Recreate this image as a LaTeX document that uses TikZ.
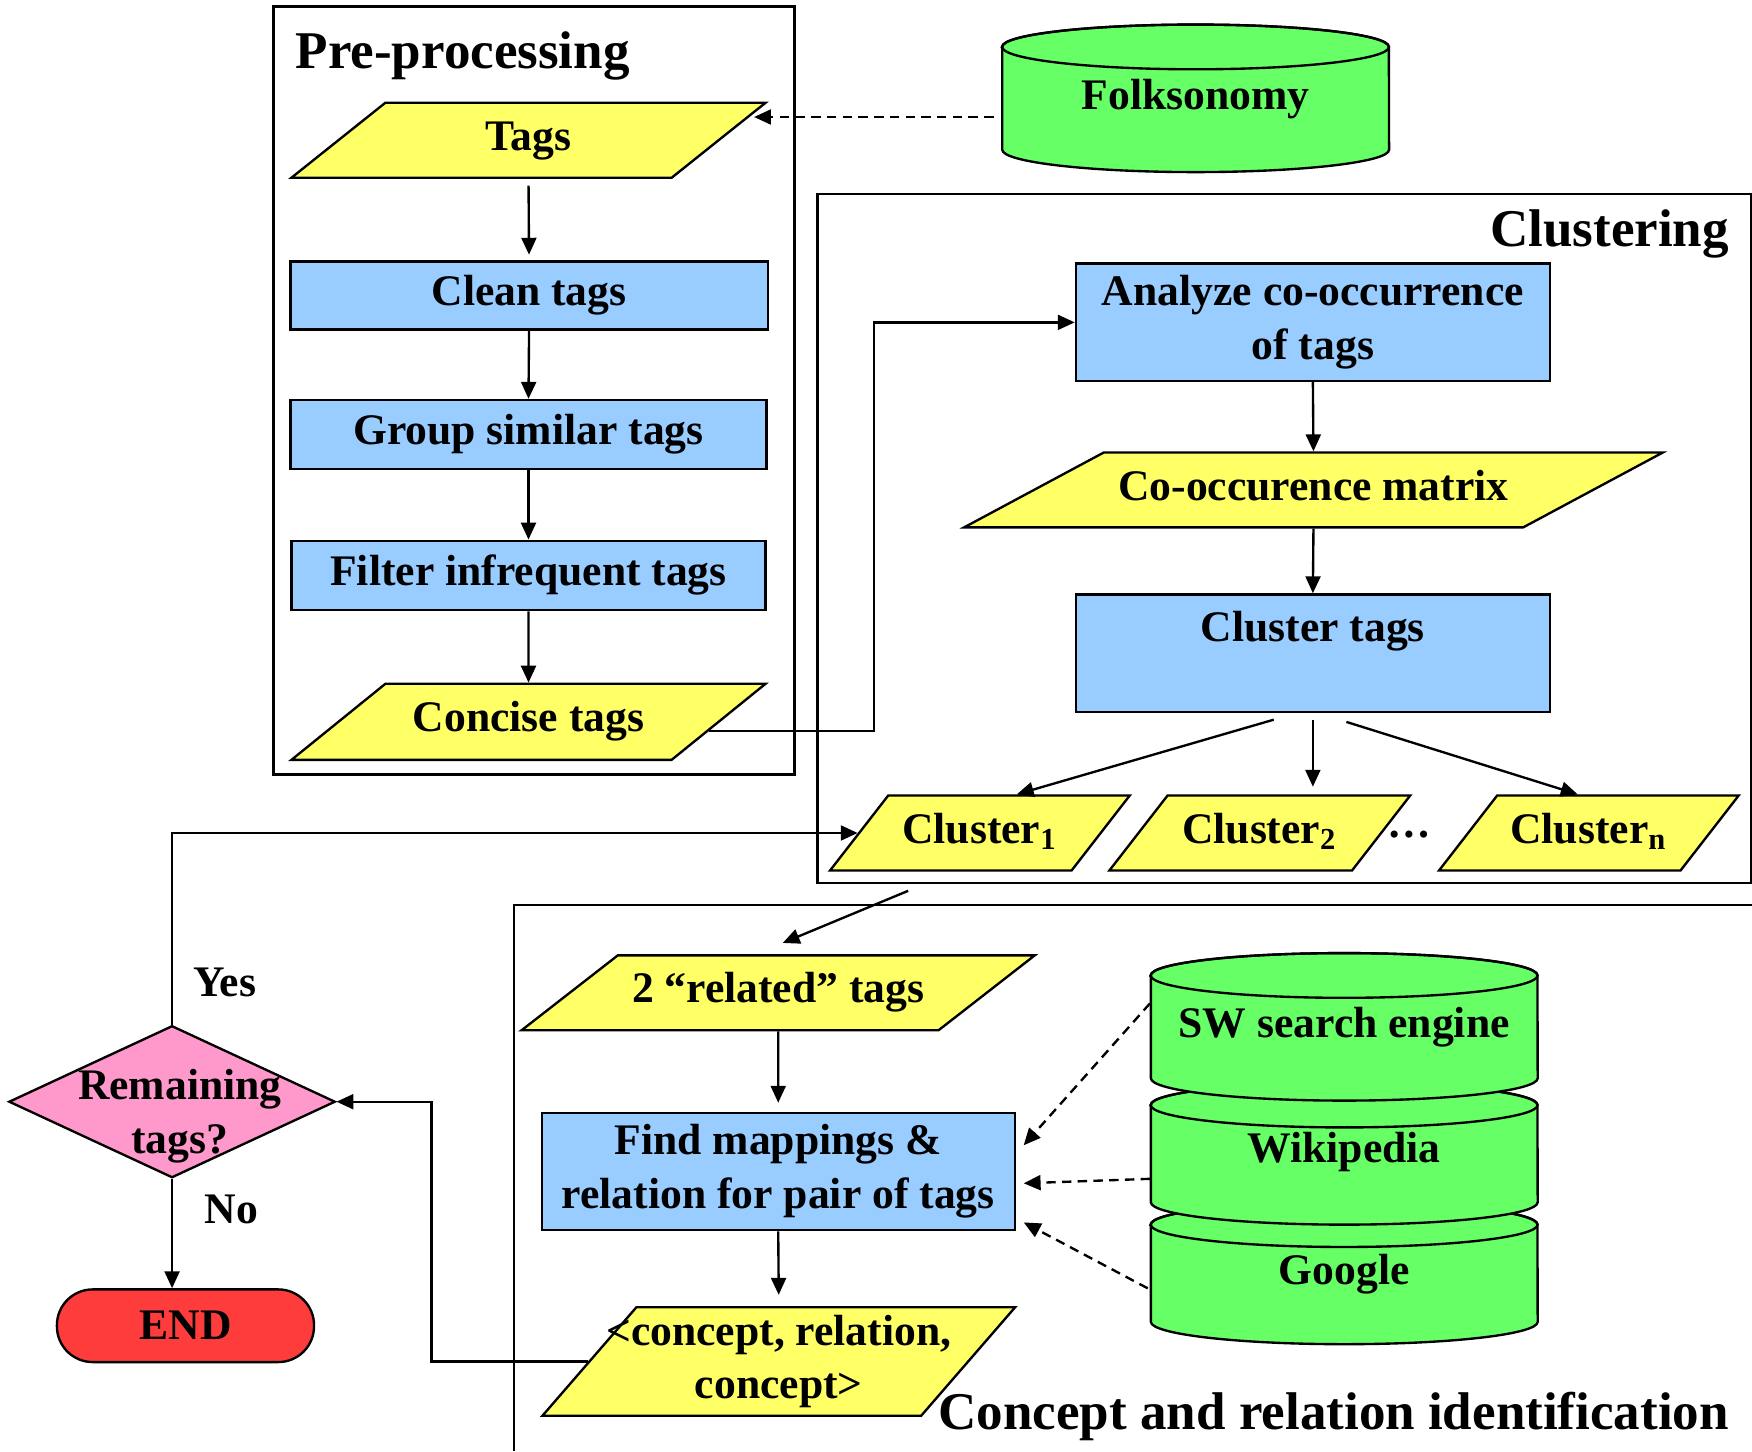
\documentclass[tikz,border=0pt]{standalone}
\usepackage{fontspec}
\setmainfont{Liberation Serif}
\usepackage{xcolor}
\usepackage{tikz}
\usetikzlibrary{shapes.geometric}
\usetikzlibrary{arrows.meta}
\usetikzlibrary{positioning}

\definecolor{tagyellow}{RGB}{255,255,102}
\definecolor{stepblue}{RGB}{153,204,255}
\definecolor{dbgreen}{RGB}{102,255,102}
\definecolor{askpink}{RGB}{255,153,204}
\definecolor{stopred}{RGB}{255,60,60}

% drum: name, centre x, top y, bottom y, text y, text
\newcommand{\dbdrum}[6]{%
  \filldraw[fill=dbgreen,line width=0.6pt] (#2-173,#3) -- (#2-173,#4)
    arc[start angle=180,end angle=360,x radius=1.73cm,y radius=0.2cm]
    -- (#2+173,#3)
    arc[start angle=0,end angle=180,x radius=1.73cm,y radius=0.2cm] -- cycle;
  \draw[line width=0.6pt] (#2,#3) ellipse[x radius=1.73cm,y radius=0.2cm];
  \node[dbtext] (#1) at (#2,#5) {#6};}

\begin{document}
\begin{tikzpicture}[x=0.01cm,y=-0.01cm,
  txt/.style={font=\fontsize{11.1}{13.7}\selectfont\bfseries, align=center},
  process/.style={txt, rectangle, draw, fill=stepblue, line width=0.6pt, inner sep=0},
  datum/.style={txt, trapezium, trapezium stretches body=true, draw, fill=tagyellow, line width=0.6pt,
    inner xsep=0, inner ysep=0.165cm, text height=0.26cm, text depth=0.08cm},
  decision/.style={diamond, draw, fill=askpink, line width=0.6pt, inner sep=0, minimum width=2.92cm, minimum height=1.36cm},
  stopper/.style={txt, rectangle, rounded corners=0.32cm, draw, fill=stopred, line width=0.6pt, minimum width=2.30cm, minimum height=0.65cm},
  stage/.style={rectangle, draw, line width=0.6pt, inner sep=0},
  heading/.style={font=\fontsize{13.5}{16}\selectfont\bfseries, inner sep=0},
  note/.style={txt, inner sep=0},
  dbtext/.style={txt, inner sep=0, minimum width=3.46cm},
  flow/.style={-{Triangle[length=4.3pt,width=3.8pt]}, line width=0.6pt},
  feed/.style={flow, dash pattern=on 2.4pt off 1.6pt}]
\useasboundingbox (0,0) rectangle (1568,1299);

% frames
\node[stage, minimum width=4.66cm, minimum height=6.87cm] (prebox) at (478,349.5) {};
\node[stage, minimum width=8.35cm, minimum height=6.16cm] (clustbox) at (1149.5,482) {};
\draw[line width=0.6pt] (1568,810) -- (460,810) -- (460,1299);
\node[heading, anchor=west] (pretitle) at (264,50) {Pre-processing};
\node[heading, anchor=east] (clusttitle) at (1548,209) {Clustering};
\node[heading, anchor=east] (concepttitle) at (1548,1268) {Concept and relation identification};

% pre-processing
\node[datum, trapezium left angle=38.6, trapezium right angle=141.4, minimum width=4.24cm, minimum height=0.67cm] (tags) at (473,125.5) {Tags};
\node[process, minimum width=4.27cm, minimum height=0.61cm] (clean) at (473.5,264.5) {Clean tags};
\node[process, minimum width=4.26cm, minimum height=0.62cm] (group) at (473,389) {Group similar tags};
\node[process, minimum width=4.24cm, minimum height=0.62cm] (filter) at (473,515) {Filter infrequent tags};
\node[datum, trapezium left angle=39, trapezium right angle=141, minimum width=4.24cm, minimum height=0.68cm, inner ysep=0.17cm] (concise) at (473,646) {Concise tags};

% clustering
\node[process, minimum width=4.24cm, minimum height=1.05cm] (analyze) at (1175,288.5) {Analyze co-occurrence\\of tags};
\node[datum, trapezium left angle=28.2, trapezium right angle=151.8, minimum width=6.25cm, minimum height=0.67cm] (matrix) at (1175.5,438.5) {Co-occurence matrix};
\node[process, minimum width=4.24cm, minimum height=1.05cm] (clus) at (1175,584.5) {Cluster tags\\\mbox{}};
\node[datum, trapezium left angle=52.2, trapezium right angle=127.8, minimum width=2.68cm, minimum height=0.67cm] (c1) at (877,745.5) {Cluster\textsubscript{1}};
\node[datum, trapezium left angle=52.2, trapezium right angle=127.8, minimum width=2.69cm, minimum height=0.67cm] (c2) at (1127.5,745.5) {Cluster\textsubscript{2}};
\node[note] (dots) at (1261,747) {\ldots};
\node[datum, trapezium left angle=52.2, trapezium right angle=127.8, minimum width=2.68cm, minimum height=0.67cm] (cn) at (1422,745.5) {Cluster\textsubscript{n}};

% concept and relation identification
\node[datum, trapezium left angle=37.9, trapezium right angle=142.1, minimum width=4.59cm, minimum height=0.67cm] (related) at (696.5,888.5) {2 “related” tags};
\node[process, minimum width=4.23cm, minimum height=1.05cm] (find) at (696.5,1048.5) {Find mappings \&\\relation for pair of tags};
\node[datum, trapezium left angle=49.1, trapezium right angle=130.9, minimum width=4.22cm, minimum height=0.97cm,
  text height={}, text depth={}, inner ysep=0.068cm, inner xsep=-0.27cm] (concept) at (697,1218.5) {<concept, relation,\\concept>};

% sources
\dbdrum{folk}{1070}{42}{134}{89}{Folksonomy}
\dbdrum{google}{1203}{1096}{1183}{1140}{Google}
\dbdrum{wiki}{1203}{989}{1076}{1031}{Wikipedia}
\dbdrum{sw}{1203}{873}{965}{919}{SW search engine}

% loop control
\node[decision, label={[txt, xshift=0.07cm, yshift=-0.13cm]center:Remaining\\tags?}] (remain) at (154,986) {};
\node[stopper] (finish) at (166,1186.5) {END};
\node[note] (yes) at (201,879) {Yes};
\node[note] (no) at (207,1082) {No};

% connectors
\draw[feed, shorten <=0.07cm, shorten >=0.04cm] (tags.6 -| folk.west) -- (tags.6);
\draw[flow, shorten <=0.06cm, shorten >=0.05cm] (tags.south) -- (clean.north);
\draw[flow] (clean.south) -- (group.north);
\draw[flow] (group.south) -- (filter.north);
\draw[flow] (filter.south) -- (concise.north);
\draw[flow] (concise.-3) -- ++(148,0) |- (analyze.west);
\draw[flow] (analyze.south) -- (matrix.north);
\draw[flow] (matrix.south) -- (clus.north);
\draw[flow] ([xshift=-0.35cm,yshift=-0.06cm]clus.south) -- ([xshift=0.33cm]c1.north);
\draw[flow] ([yshift=-0.06cm]clus.south) -- ++(0,60);
\draw[flow] ([xshift=0.3cm,yshift=-0.08cm]clus.south) -- ([xshift=-0.1cm]cn.north);
\draw[flow] ([xshift=-3.365cm,yshift=-0.06cm]clustbox.south) -- ([xshift=0.04cm,yshift=0.1cm]related.north);
\draw[flow, shorten >=0.08cm] (related.south) -- (find.north);
\draw[flow, shorten >=0.1cm] (find.south) -- (concept.north);
\draw[feed] ([yshift=0.21cm]sw.west) -- ([xshift=0.07cm,yshift=0.235cm]find.east);
\draw[feed] ([yshift=-0.24cm]wiki.west) -- ([xshift=0.07cm,yshift=-0.105cm]find.east);
\draw[feed] ([xshift=-0.02cm,yshift=-0.13cm]google.west) -- ([xshift=0.07cm,yshift=-0.455cm]find.east);
\draw[flow] (concept.west) -- ++(-140,0) |- (remain.east);
\draw[flow] (remain.north) |- (c1.west);
\draw[flow] (remain.south) -- (remain.south |- finish.north);
\end{tikzpicture}
\end{document}
